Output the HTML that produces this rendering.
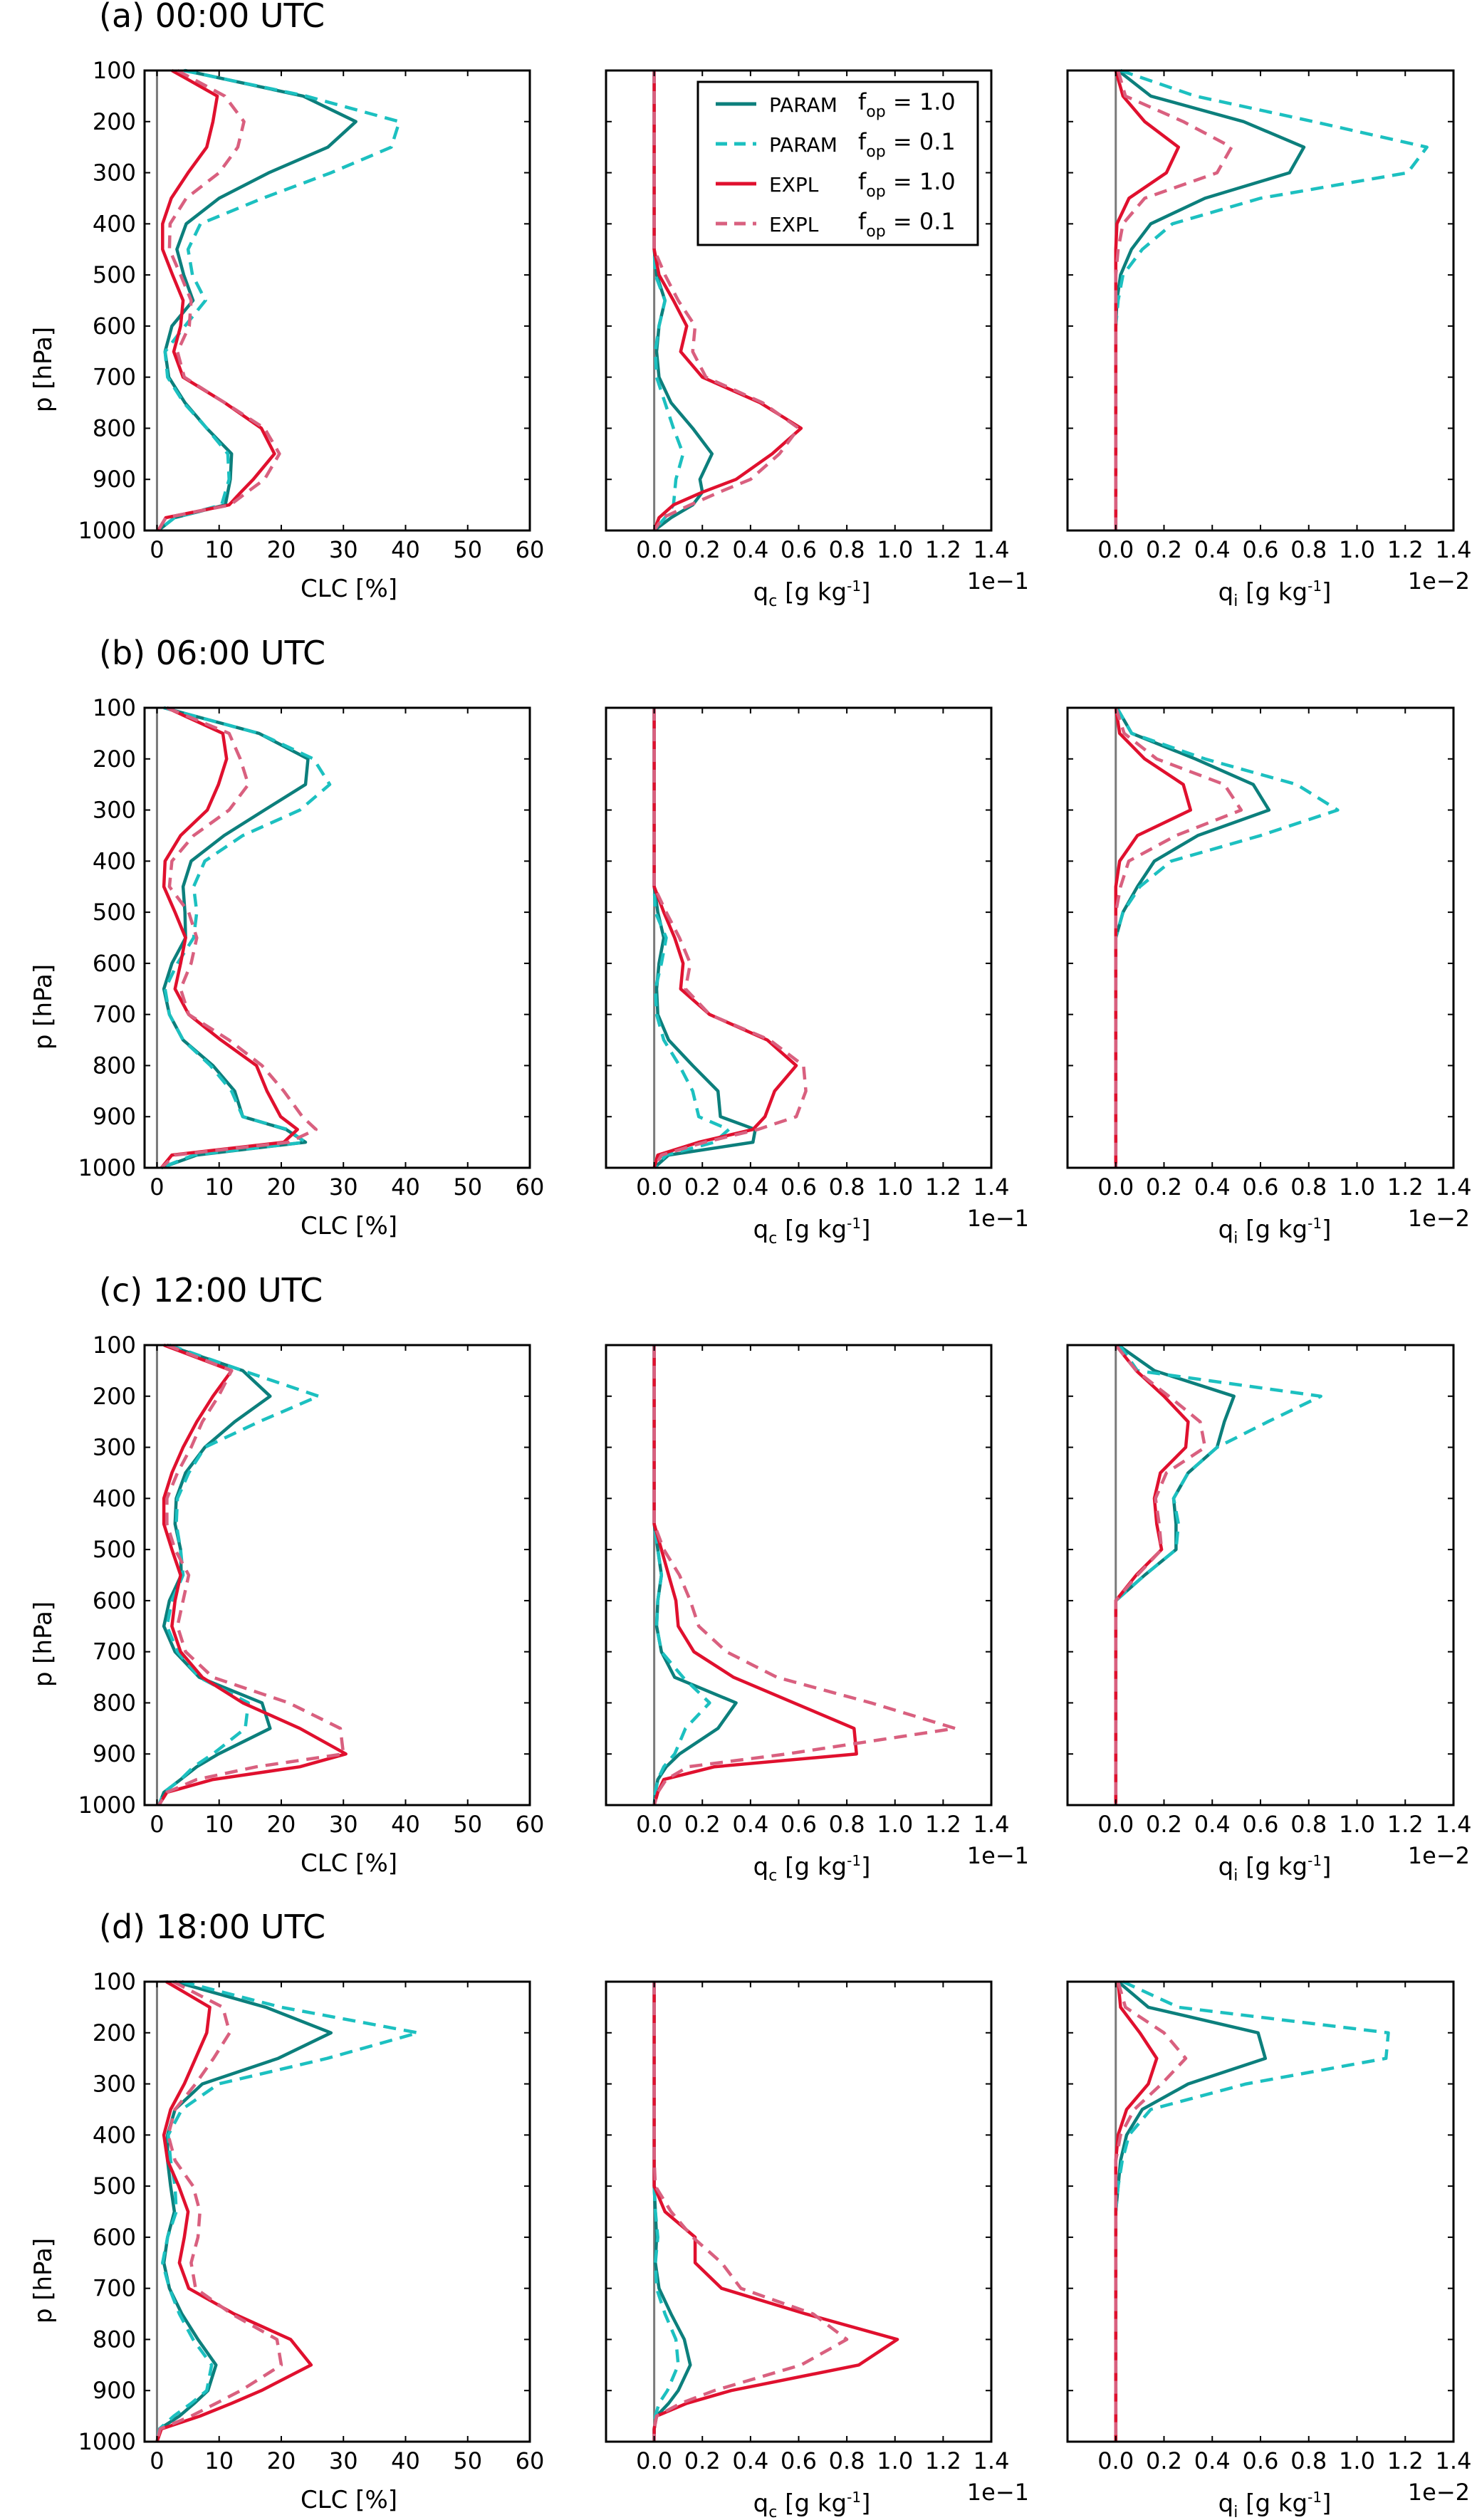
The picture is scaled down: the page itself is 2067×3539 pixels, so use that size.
<!DOCTYPE html>
<html><head><meta charset="utf-8"><style>
html,body{margin:0;padding:0;background:#fff}
svg{display:block;font-family:"DejaVu Sans","Liberation Sans",sans-serif}
</style></head><body>
<svg id="fig" width="2067" height="3539" viewBox="0 0 2067 3539" xmlns="http://www.w3.org/2000/svg"></svg>
<script>
const levels=[100,150,200,250,300,350,400,450,500,550,600,650,700,750,800,850,900,925,950,975,1000];
const pTicks=[100,200,300,400,500,600,700,800,900,1000];
const clcTicks=[0,10,20,30,40,50,60];
const qTicks=[0.0,0.2,0.4,0.6,0.8,1.0,1.2,1.4];
const rowTitles=['(a) 00:00 UTC','(b) 06:00 UTC','(c) 12:00 UTC','(d) 18:00 UTC'];

// Row a
const a_clc_p1=[4.5,23.5,32,27.5,18,10,4.7,3.2,4.3,5.8,2.4,1.3,1.9,4.5,8,12,11.8,11.4,11,2.8,0.2];
const a_clc_p01=[4.3,24,39,37.7,28,17,7,5,5.7,7.8,4.5,1.3,1.7,4.3,8,11.4,11.6,11,10.4,2.8,0.2];
const a_clc_e1=[2.4,9.7,9,8,5,2.3,0.9,0.9,2.5,4.2,3.8,2.7,4.2,10.9,16.8,18.9,15.5,13.5,11.6,1.4,0.2];
const a_clc_e01=[3.3,10.9,14,13,10,4.7,2.1,2,3.8,5.5,5.2,3.3,4.4,10.9,17.3,19.7,17.3,14.5,11.8,1.4,0.2];
const a_qc_p1=[0,0,0,0,0,0,0,0,0.01,0.045,0.02,0.01,0.02,0.07,0.16,0.24,0.19,0.2,0.16,0.07,0];
const a_qc_p01=[0,0,0,0,0,0,0,0,0.005,0.045,0.02,0.005,0.01,0.045,0.08,0.12,0.09,0.085,0.08,0.045,0];
const a_qc_e1=[0,0,0,0,0,0,0,0,0.02,0.08,0.135,0.11,0.2,0.44,0.61,0.49,0.34,0.2,0.08,0.02,0];
const a_qc_e01=[0,0,0,0,0,0,0,0,0.045,0.1,0.17,0.16,0.215,0.45,0.6,0.52,0.4,0.27,0.15,0.035,0];
const a_qi_p1=[0.01,0.145,0.53,0.78,0.72,0.37,0.145,0.065,0.02,0.005,0,0,0,0,0,0,0,0,0,0,0];
const a_qi_p01=[0.02,0.33,0.82,1.29,1.21,0.6,0.235,0.11,0.03,0.01,0,0,0,0,0,0,0,0,0,0,0];
const a_qi_e1=[0,0.03,0.12,0.26,0.21,0.055,0.005,0,0,0,0,0,0,0,0,0,0,0,0,0,0];
const a_qi_e01=[0.01,0.04,0.28,0.48,0.42,0.12,0.03,0.01,0,0,0,0,0,0,0,0,0,0,0,0,0];
// Row b
const b_clc_p1=[1.1,16.4,24.3,23.9,17.3,10.8,5.5,4.2,4.5,4.6,2.4,1.1,2,4.2,9,12.5,13.8,20.8,23.9,6.4,0.7];
const b_clc_p01=[1.1,16.4,25.2,27.8,23,13.8,7.7,5.9,6.4,5.9,3.3,1.3,2,4.2,8.6,12,13.8,21,23.9,5.9,0.7];
const b_clc_e1=[1.6,10.6,11.2,9.9,8.1,3.8,1.3,1.1,2.9,4.6,3.8,2.9,5.1,10.3,16,17.7,19.9,22.6,20.4,2.4,0.7];
const b_clc_e01=[1.6,11.6,13.4,14.7,11.6,5.9,2.4,2,5.1,6.4,5.5,3.8,5.1,11.6,16.9,20.4,23.4,25.6,21.2,2.9,0.7];
const b_qc_p1=[0,0,0,0,0,0,0,0,0.015,0.04,0.02,0.01,0.015,0.06,0.16,0.265,0.275,0.42,0.41,0.06,0];
const b_qc_p01=[0,0,0,0,0,0,0,0,0.005,0.05,0.03,0.005,0.01,0.04,0.105,0.16,0.185,0.31,0.25,0.05,0];
const b_qc_e1=[0,0,0,0,0,0,0,0,0.04,0.085,0.12,0.11,0.23,0.47,0.59,0.5,0.46,0.41,0.185,0.015,0];
const b_qc_e01=[0,0,0,0,0,0,0,0,0.05,0.105,0.15,0.13,0.23,0.48,0.62,0.63,0.59,0.43,0.21,0.03,0];
const b_qi_p1=[0.005,0.066,0.33,0.57,0.635,0.34,0.16,0.09,0.03,0,0,0,0,0,0,0,0,0,0,0,0];
const b_qi_p01=[0.005,0.066,0.37,0.75,0.92,0.6,0.23,0.1,0.03,0,0,0,0,0,0,0,0,0,0,0,0];
const b_qi_e1=[0,0.016,0.12,0.28,0.31,0.09,0.016,0,0,0,0,0,0,0,0,0,0,0,0,0,0];
const b_qi_e01=[0,0.035,0.17,0.45,0.52,0.25,0.054,0.02,0,0,0,0,0,0,0,0,0,0,0,0,0];
// Row c
const c_clc_p1=[1.6,13.8,18.2,12.5,7.7,4.6,3.1,2.9,3.8,3.9,2,1.1,2.9,6.8,16.9,18.2,9.9,6.4,3.8,1.1,0.3];
const c_clc_p01=[2,13.8,26,16.4,7.7,5.1,3.3,3.1,3.8,4.2,2.4,1.6,3.3,6.8,14.7,14.2,9,5.9,3.8,1.1,0.3];
const c_clc_e1=[1.1,12,9,6.4,4.2,2.4,1.1,1.1,2.4,3.8,2.9,2.4,3.8,7.3,13.8,23,30.4,23,9,1.6,0.3];
const c_clc_e01=[1.6,12,9.9,7.3,5.5,3.3,1.6,1.6,2.9,5.1,4.2,3.3,4.6,9,21.2,29.5,30,16,6.4,1.6,0.3];
const c_qc_p1=[0,0,0,0,0,0,0,0,0.015,0.03,0.015,0.01,0.03,0.085,0.34,0.265,0.105,0.05,0.015,0.005,0];
const c_qc_p01=[0,0,0,0,0,0,0,0,0.015,0.03,0.015,0.01,0.03,0.12,0.23,0.13,0.085,0.04,0.015,0.005,0];
const c_qc_e1=[0,0,0,0,0,0,0,0,0.03,0.06,0.09,0.1,0.165,0.33,0.58,0.83,0.84,0.25,0.04,0.015,0];
const c_qc_e01=[0,0,0,0,0,0,0,0,0.04,0.105,0.15,0.185,0.3,0.51,0.9,1.25,0.55,0.14,0.05,0.015,0];
const c_qi_p1=[0.01,0.16,0.49,0.45,0.42,0.3,0.24,0.25,0.25,0.12,0,0,0,0,0,0,0,0,0,0,0];
const c_qi_p01=[0.015,0.09,0.85,0.63,0.42,0.3,0.24,0.26,0.25,0.12,0,0,0,0,0,0,0,0,0,0,0];
const c_qi_e1=[0,0.085,0.2,0.3,0.29,0.185,0.16,0.17,0.19,0.085,0,0,0,0,0,0,0,0,0,0,0];
const c_qi_e01=[0,0.085,0.22,0.35,0.37,0.21,0.165,0.18,0.19,0.09,0,0,0,0,0,0,0,0,0,0,0];
// Row d
const d_clc_p1=[2.9,17.5,28,19.5,7.3,2.9,1.7,1.7,2.2,2.8,1.7,1.1,2,4,6.6,9.5,8.2,6,3.6,0.4,0];
const d_clc_p01=[4,20,42,27.4,9.9,4,1.8,2.2,2.9,3.1,1.7,0.9,2,3.6,5.8,8.8,8,5.5,2.7,0.4,0];
const d_clc_e1=[1.5,8.5,8,6.2,4.4,2.2,1.1,1.7,3.5,5,4.4,3.6,5.1,12.4,21.5,24.8,16.8,12,6.9,0.7,0];
const d_clc_e01=[2.6,10.6,11.7,9.1,6.2,2.9,1.8,2.9,5.8,6.9,6.6,5.5,6.2,12,19.3,20,13.5,9.5,5.5,0.5,0];
const d_qc_p1=[0,0,0,0,0,0,0,0,0,0.005,0.01,0.005,0.02,0.07,0.125,0.15,0.1,0.06,0.01,0,0];
const d_qc_p01=[0,0,0,0,0,0,0,0,0,0.005,0.015,0.005,0.01,0.045,0.09,0.1,0.055,0.02,0.005,0,0];
const d_qc_e1=[0,0,0,0,0,0,0,0,0,0.045,0.17,0.17,0.28,0.63,1.01,0.85,0.32,0.135,0.01,0,0];
const d_qc_e01=[0,0,0,0,0,0,0,0,0.005,0.07,0.16,0.28,0.36,0.66,0.8,0.61,0.25,0.11,0.01,0,0];
const d_qi_p1=[0.01,0.135,0.59,0.62,0.3,0.11,0.045,0.02,0.01,0,0,0,0,0,0,0,0,0,0,0,0];
const d_qi_p01=[0.03,0.26,1.13,1.12,0.54,0.145,0.055,0.027,0.01,0,0,0,0,0,0,0,0,0,0,0,0];
const d_qi_e1=[0.01,0.02,0.1,0.17,0.135,0.045,0.01,0,0,0,0,0,0,0,0,0,0,0,0,0,0];
const d_qi_e01=[0.01,0.04,0.2,0.29,0.19,0.077,0.02,0,0,0,0,0,0,0,0,0,0,0,0,0,0];

const NS='http://www.w3.org/2000/svg';
const svg=document.getElementById('fig');
function mk(tag,attrs,parent){const e=document.createElementNS(NS,tag);for(const k in attrs)e.setAttribute(k,attrs[k]);(parent||svg).appendChild(e);return e;}

const rowTops=[99,994,1889,2783];
const axH=646;
const panelX=[[203,744],[851,1392],[1499,2041]];
const xlims=[[-2,60],[-0.2,1.4],[-0.2,1.4]];
const styles=[
 {key:'p1',color:'#0c7f7c',dash:null,name:'param-fop-1'},
 {key:'p01',color:'#1cc0c0',dash:'18,11',name:'param-fop-01'},
 {key:'e1',color:'#e0102e',dash:null,name:'expl-fop-1'},
 {key:'e01',color:'#d9607f',dash:'18,11',name:'expl-fop-01'}
];
const rowData=[
 [[a_clc_p1,a_clc_p01,a_clc_e1,a_clc_e01],[a_qc_p1,a_qc_p01,a_qc_e1,a_qc_e01],[a_qi_p1,a_qi_p01,a_qi_e1,a_qi_e01]],
 [[b_clc_p1,b_clc_p01,b_clc_e1,b_clc_e01],[b_qc_p1,b_qc_p01,b_qc_e1,b_qc_e01],[b_qi_p1,b_qi_p01,b_qi_e1,b_qi_e01]],
 [[c_clc_p1,c_clc_p01,c_clc_e1,c_clc_e01],[c_qc_p1,c_qc_p01,c_qc_e1,c_qc_e01],[c_qi_p1,c_qi_p01,c_qi_e1,c_qi_e01]],
 [[d_clc_p1,d_clc_p01,d_clc_e1,d_clc_e01],[d_qc_p1,d_qc_p01,d_qc_e1,d_qc_e01],[d_qi_p1,d_qi_p01,d_qi_e1,d_qi_e01]]
];
const panelNames=['clc','qc','qi'];

rowTops.forEach((top,r)=>{
  const bot=top+axH;
  const yS=p=>top+(p-100)/900*axH;
  const g=mk('g',{});
  
  
  const t=mk('text',{x:139,y:top-61,'font-size':46,fill:'#000'},g);
  t.textContent=rowTitles[r];
  
  
  // y label
  const yl=mk('text',{x:0,y:0,'font-size':34,'text-anchor':'middle',transform:`translate(72,${top+420}) rotate(-90)`},g);
  yl.textContent='p [hPa]';
  
  
  pTicks.forEach(p=>{
    const tl=mk('text',{x:191,y:yS(p)+11,'font-size':32,'text-anchor':'end'},g);
    tl.textContent=p;
    
    
  });
  panelX.forEach((px,c)=>{
    const [x0,x1]=px,[lo,hi]=xlims[c];
    const xS=v=>x0+(v-lo)/(hi-lo)*(x1-x0);
    const pg=mk('g',{},g);
    
    
    // zero line
    const zl=mk('line',{x1:xS(0),x2:xS(0),y1:top,y2:bot,stroke:'#7a7a7a','stroke-width':3},pg);
    
    
    // series
    rowData[r][c].forEach((vals,si)=>{
      const st=styles[si];
      const pts=vals.map((v,i)=>xS(v).toFixed(1)+','+yS(levels[i]).toFixed(1)).join(' ');
      const pl=mk('polyline',{points:pts,fill:'none',stroke:st.color,'stroke-width':4.5,'stroke-linejoin':'round'},pg);
      if(st.dash)pl.setAttribute('stroke-dasharray',st.dash);
      
      
    });
    // frame
    const fr=mk('rect',{x:x0,y:top,width:x1-x0,height:axH,fill:'none',stroke:'#000','stroke-width':3},pg);
    
    
    // ticks
    pTicks.forEach(p=>{
      mk('line',{x1:x0,x2:x0+8,y1:yS(p),y2:yS(p),stroke:'#000','stroke-width':2},pg);
      mk('line',{x1:x1-8,x2:x1,y1:yS(p),y2:yS(p),stroke:'#000','stroke-width':2},pg);
    });
    const xt=c===0?clcTicks:qTicks;
    xt.forEach(v=>{
      mk('line',{x1:xS(v),x2:xS(v),y1:bot,y2:bot-8,stroke:'#000','stroke-width':2},pg);
      mk('line',{x1:xS(v),x2:xS(v),y1:top,y2:top+8,stroke:'#000','stroke-width':2},pg);
      const tl=mk('text',{x:xS(v),y:bot+38,'font-size':32,'text-anchor':'middle'},pg);
      tl.textContent=c===0?String(v):v.toFixed(1);
      
      
    });
    // x label
    if(c===0){
      const xl=mk('text',{x:490,y:bot+93,'font-size':34,'text-anchor':'middle'},pg);
      xl.textContent='CLC [%]';
      
      
    }else{
      const cx=c===1?1140:1790;
      const xl=mk('text',{x:cx,y:bot+98,'font-size':34,'text-anchor':'middle'},pg);
      
      
      const s1=mk('tspan',{},xl);s1.textContent='q';
      const s2=mk('tspan',{dy:8,'font-size':22},xl);s2.textContent=c===1?'c':'i';
      const s3=mk('tspan',{dy:-8},xl);s3.textContent=' [g kg';
      const s4=mk('tspan',{dy:-13,'font-size':20},xl);s4.textContent='-1';
      const s5=mk('tspan',{dy:13},xl);s5.textContent=']';
      const ex=mk('text',{x:c===1?1445:2064,y:bot+82,'font-size':32,'text-anchor':'end'},pg);
      ex.textContent=c===1?'1e\u22121':'1e\u22122';
      
      
    }
  });
});

// legend
const lg=mk('g',{});


mk('rect',{x:980,y:115,width:393,height:229,fill:'#fff',stroke:'#000','stroke-width':3},lg);
const legLabels=[['PARAM','1.0'],['PARAM','0.1'],['EXPL','1.0'],['EXPL','0.1']];
const legY=[146,202,258,314];
styles.forEach((st,i)=>{
  const y=legY[i];
  const ln=mk('line',{x1:1005,x2:1062,y1:y,y2:y,stroke:st.color,'stroke-width':5},lg);
  if(st.dash)ln.setAttribute('stroke-dasharray','16,10');
  
  
  const t1=mk('text',{x:1080,y:y+11,'font-size':28},lg);
  t1.textContent=legLabels[i][0];
  
  
  const t2=mk('text',{x:1205,y:y+8,'font-size':32},lg);
  
  
  const a=mk('tspan',{},t2);a.textContent='f';
  const b=mk('tspan',{dy:10,'font-size':22},t2);b.textContent='op';
  const cc=mk('tspan',{dy:-10},t2);cc.textContent=' = '+legLabels[i][1];
});
</script>
</body></html>
